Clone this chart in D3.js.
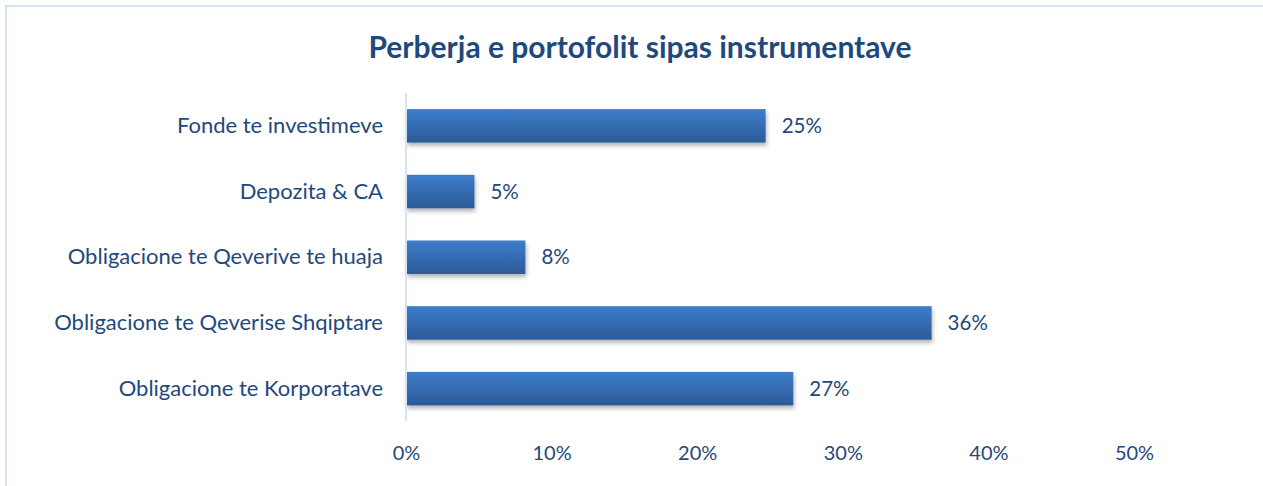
<!DOCTYPE html>
<html><head><meta charset="utf-8">
<script src="https://cdn.jsdelivr.net/npm/d3@7/dist/d3.min.js"></script>
<style>body{margin:0;background:#fff;}svg{display:block;}</style>
</head><body><div id="chart"></div>
<script>
const categories = ["Fonde te investimeve","Depozita & CA","Obligacione te Qeverive te huaja","Obligacione te Qeverise Shqiptare","Obligacione te Korporatave"];
const values = [0.247, 0.047, 0.082, 0.361, 0.266];
const valueLabels = ["25%","5%","8%","36%","27%"];
const tickValues = [0,0.1,0.2,0.3,0.4,0.5];
const title = "Perberja e portofolit sipas instrumentave";

const W=1263,H=486;
const svg=d3.select("#chart").append("svg").attr("width",W).attr("height",H);
const defs=svg.append("defs");
const g=defs.append("linearGradient").attr("id","barGrad").attr("x1",0).attr("y1",0).attr("x2",0).attr("y2",1);
g.append("stop").attr("offset","0%").attr("stop-color","#3d7dcb");
g.append("stop").attr("offset","100%").attr("stop-color","#2c5a98");
const f=defs.append("filter").attr("id","shadow").attr("x","-5%").attr("y","-20%").attr("width","115%").attr("height","160%");
f.append("feDropShadow").attr("dx",1).attr("dy",3).attr("stdDeviation",2).attr("flood-color","#000").attr("flood-opacity",0.3);

// border
svg.append("path").attr("d",`M6,${H} L6,6 L${W},6`).attr("fill","none").attr("stroke","#d6e3f3").attr("stroke-width",2);

const textColor="#1f497d";
const fontF="Lato, sans-serif";
svg.append("text").attr("x",640).attr("y",58).attr("text-anchor","middle")
  .attr("font-family",fontF).attr("font-weight","bold").attr("font-size",30)
  .attr("fill",textColor).text(title);

const x=d3.scaleLinear().domain([0,0.5]).range([406,1134]);
const y=d3.scaleBand().domain(categories).range([93,421.5]).paddingInner(0.49).paddingOuter(0.245);

svg.append("g").selectAll("rect").data(categories).join("rect")
  .attr("x",x(0)).attr("y",d=>y(d)).attr("width",(d,i)=>x(values[i])-x(0)).attr("height",y.bandwidth())
  .attr("fill","url(#barGrad)").attr("filter","url(#shadow)");

// axis line
svg.append("line").attr("x1",x(0)).attr("x2",x(0)).attr("y1",93).attr("y2",421).attr("stroke","#d6e3f3").attr("stroke-width",2);

const xAxis=d3.axisBottom(x).tickValues(tickValues).tickFormat(d3.format(".0%")).tickSize(0).tickPadding(0);
const ax=svg.append("g").attr("transform","translate(0,446)").call(xAxis);
ax.select(".domain").remove();
ax.selectAll("text").attr("font-family",fontF).attr("font-size",20).attr("fill",textColor).attr("dy","0.71em");

const yAxis=d3.axisLeft(y).tickSize(0).tickPadding(23);
const ay=svg.append("g").attr("transform",`translate(${x(0)},0)`).call(yAxis);
ay.select(".domain").remove();
ay.selectAll("text").attr("font-family",fontF).attr("font-size",22).attr("fill",textColor);

svg.append("g").selectAll("text").data(categories).join("text")
  .attr("x",(d,i)=>x(values[i])+16).attr("y",d=>y(d)+y.bandwidth()/2).attr("dy","0.35em")
  .attr("font-family",fontF).attr("font-size",20.5).attr("fill",textColor)
  .text((d,i)=>valueLabels[i]);
</script></body></html>
